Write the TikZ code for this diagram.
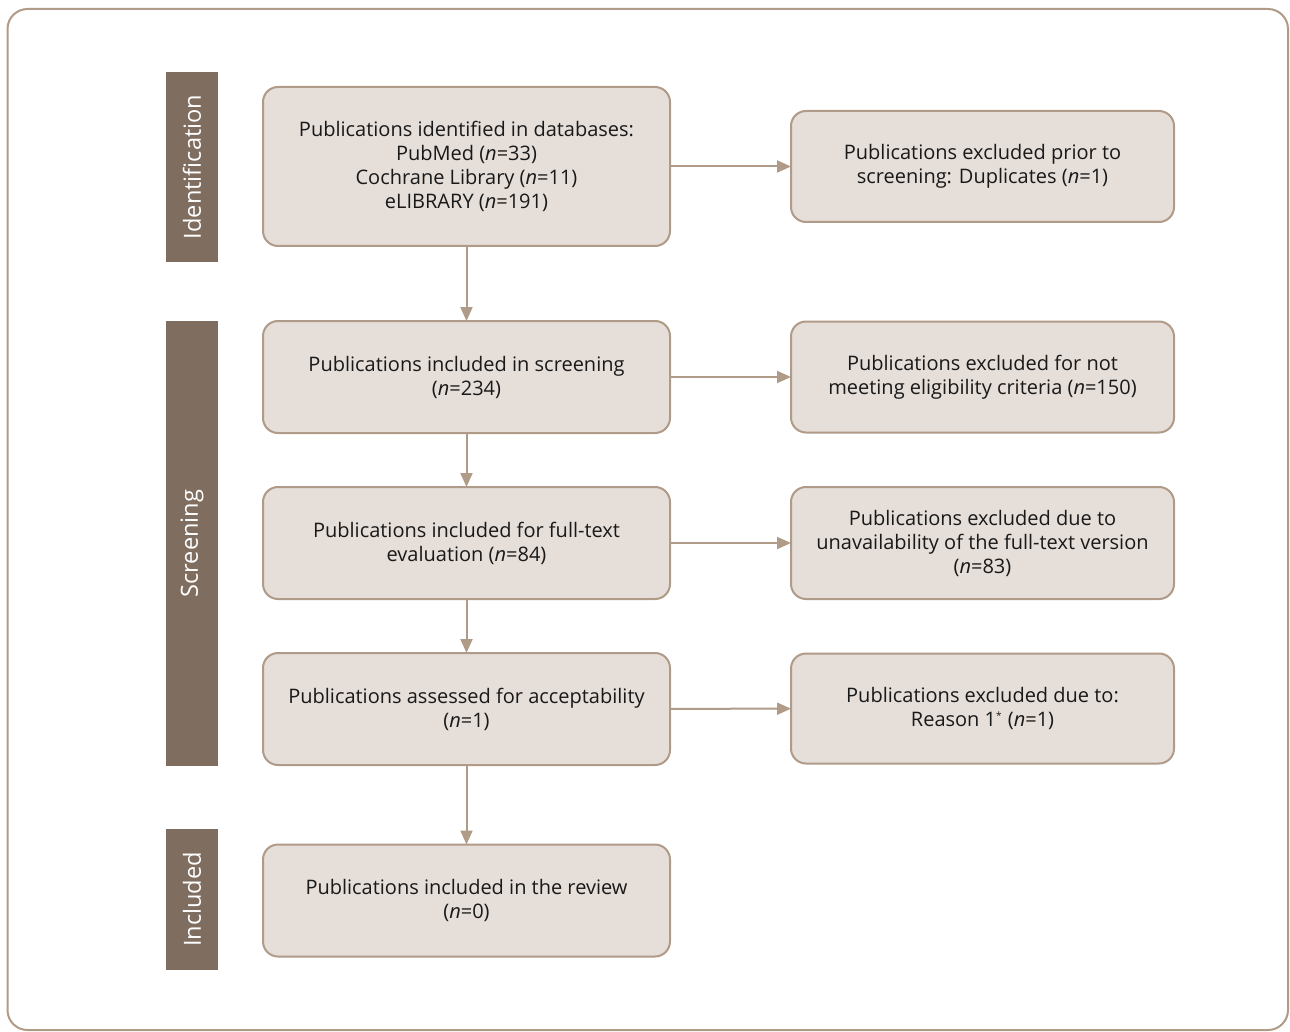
\documentclass[tikz,border=0pt]{standalone}
\usepackage{fontspec}
\setmainfont{Open Sans}
\usetikzlibrary{arrows.meta}
\definecolor{barbrown}{HTML}{7F6E60}
\definecolor{boxfill}{HTML}{E5DED9}
\definecolor{edgebrown}{HTML}{B09A88}
\tikzstyle{bordered} = [align=center,draw=edgebrown,fill=boxfill,line width=1pt,rounded corners=7.5pt,outer sep=0,inner sep=1,font=\fontsize{10}{12}\selectfont,text=black!90]
\tikzstyle{stage} = [fill=barbrown,text=white,rotate=90,minimum height=26pt,inner sep=0,outer sep=0,font=\fontsize{11.8}{14}\selectfont]
\tikzstyle{arrow} = [-{Triangle[length=7pt,width=6pt]},draw=edgebrown,line width=1pt]

\begin{document}
\begin{tikzpicture}[x=0.5pt,y=-0.5pt]
    \useasboundingbox (0,0) rectangle (1290,1032);
    \draw [edgebrown,line width=1pt,rounded corners=10pt] (7.5,9) rectangle (1288,1030);
    \node [stage,minimum width=95pt] (s1) at (192,167) {Identification};
    \node [stage,minimum width=222.5pt] (s2) at (192,543.5) {Screening};
    \node [stage,minimum width=70.5pt] (s3) at (192,899.5) {Included};
    \node [bordered,minimum width=203.5pt,minimum height=79.5pt] (v1) at (466.5,166.5) {Publications identified in databases:\\PubMed (\emph{n}=33)\\Cochrane Library (\emph{n}=11)\\eLIBRARY (\emph{n}=191)};
    \node [bordered,minimum width=203.5pt,minimum height=56pt] (v2) at (466.5,377) {Publications included in screening\\(\emph{n}=234)};
    \node [bordered,minimum width=203.5pt,minimum height=56pt] (v3) at (466.5,543) {Publications included for full-text\\evaluation (\emph{n}=84)};
    \node [bordered,minimum width=203.5pt,minimum height=56pt] (v4) at (466.5,709) {Publications assessed for acceptability\\(\emph{n}=1)};
    \node [bordered,minimum width=203.5pt,minimum height=56pt] (v5) at (466.5,900.5) {Publications included in the review\\(\emph{n}=0)};
    \node [bordered,minimum width=191.5pt,minimum height=55.5pt] (r1) at (982.5,166.5) {Publications excluded prior to\\screening: Duplicates (\emph{n}=1)};
    \node [bordered,minimum width=191.5pt,minimum height=55.5pt] (r2) at (982.5,377) {Publications excluded for not\\meeting eligibility criteria (\emph{n}=150)};
    \node [bordered,minimum width=191.5pt,minimum height=56pt] (r3) at (982.5,543) {Publications excluded due to\\unavailability of the full-text version\\(\emph{n}=83)};
    \node [bordered,minimum width=191.5pt,minimum height=55pt] (r4) at (982.5,708.5) {Publications excluded due to:\\Reason 1\textsuperscript{\tiny*} (\emph{n}=1)};
    \draw [arrow] (v1) -- (v2);
    \draw [arrow] (v2) -- (v3);
    \draw [arrow] (v3) -- (v4);
    \draw [arrow] (v4) -- (v5);
    \draw [arrow] (v1) -- (r1);
    \draw [arrow] (v2) -- (r2);
    \draw [arrow] (v3) -- (r3);
    \draw [arrow] (v4) -- (r4);
\end{tikzpicture}
\end{document}
